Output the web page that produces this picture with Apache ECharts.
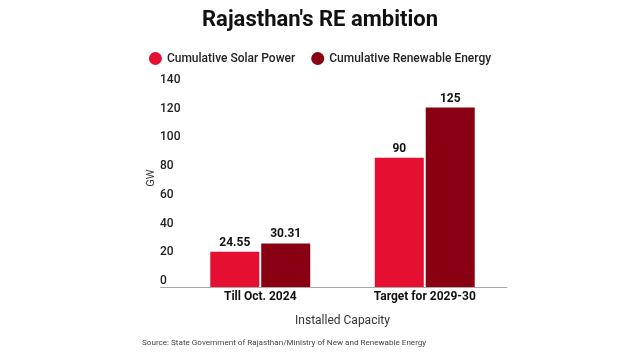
<!DOCTYPE html>
<html><head><meta charset="utf-8">
<script src="https://cdn.jsdelivr.net/npm/echarts@6/dist/echarts.min.js"></script>
<style>html,body{margin:0;padding:0;background:#fff}#c{width:640px;height:360px}</style>
</head><body><div id="c"></div>
<script>
const categories = ['Till Oct. 2024', 'Target for 2029-30'];
const solar = [24.55, 90];
const renewable = [30.31, 125];
const solarLabels = ['24.55', '90'];
const renewableLabels = ['30.31', '125'];
const yTicks = [0, 20, 40, 60, 80, 100, 120, 140];

const chart = echarts.init(document.getElementById('c'));
const F = 'Roboto, sans-serif';
chart.setOption({
  animation: false,
  textStyle: { fontFamily: F },
  title: {
    text: "Rajasthan's RE ambition", left: 'center', top: 4,
    textStyle: { fontFamily: F, fontSize: 22, fontWeight: 'bold', color: '#111' }
  },
  legend: {
    top: 47, left: 'center', itemGap: 16, icon: 'circle', itemWidth: 13, itemHeight: 13,
    textStyle: { fontFamily: F, fontSize: 12, fontWeight: 500, color: '#222' },
    data: ['Cumulative Solar Power', 'Cumulative Renewable Energy']
  },
  grid: { left: 178, right: 133, top: 86, bottom: 73 },
  xAxis: {
    type: 'category', data: categories,
    name: 'Installed Capacity', nameLocation: 'middle', nameGap: 28,
    nameTextStyle: { fontFamily: F, fontSize: 12, color: '#333' },
    axisLine: { lineStyle: { color: '#aaa' } },
    axisTick: { show: false },
    axisLabel: { fontFamily: F, fontSize: 12, fontWeight: 'bold', color: '#111', margin: 4 }
  },
  yAxis: {
    type: 'value', min: 0, max: 140, interval: 20,
    splitLine: { show: false }, axisLine: { show: false }, axisTick: { show: false },
    axisLabel: {
      fontFamily: F, fontSize: 12, fontWeight: 500, color: '#222', align: 'left', verticalAlign: 'bottom', margin: 18,
      formatter: v => yTicks.includes(v) ? String(v) : ''
    }
  },
  graphic: [
    { type: 'line', shape: { x1: 160, y1: 287.5, x2: 178, y2: 287.5 }, style: { stroke: '#aaa', lineWidth: 1 } },
    { type: 'text', x: 151, y: 178, rotation: Math.PI / 2, style: { text: 'GW', fontFamily: F, fontSize: 11, fill: '#333', align: 'center', verticalAlign: 'middle' } },
    { type: 'text', left: 142, top: 339, style: { text: 'Source: State Government of Rajasthan/Ministry of New and Renewable Energy', fontFamily: F, fontSize: 8.1, fill: '#444' } }
  ],
  series: [
    {
      name: 'Cumulative Solar Power', type: 'bar', data: solar, barWidth: 49, barGap: '4%',
      itemStyle: { color: '#E50F31' },
      label: { show: true, position: 'top', distance: 3, fontFamily: F, fontSize: 12, fontWeight: 'bold', color: '#111', formatter: p => solarLabels[p.dataIndex] }
    },
    {
      name: 'Cumulative Renewable Energy', type: 'bar', data: renewable, barWidth: 49,
      itemStyle: { color: '#880012' },
      label: { show: true, position: 'top', distance: 3, fontFamily: F, fontSize: 12, fontWeight: 'bold', color: '#111', formatter: p => renewableLabels[p.dataIndex] }
    }
  ]
});
</script></body></html>
